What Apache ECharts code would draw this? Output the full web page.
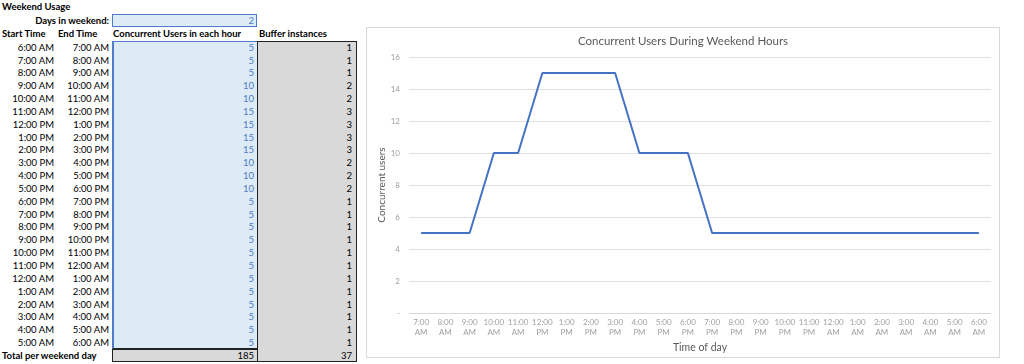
<!DOCTYPE html>
<html><head><meta charset="utf-8">
<script src="https://cdn.jsdelivr.net/npm/echarts@6/dist/echarts.min.js"></script>
<style>
body{margin:0;width:1024px;height:364px;background:#fff;overflow:hidden;font-family:Lato,'Liberation Sans',Arial,sans-serif;font-size:9.5px;color:#000;position:relative}
.t{position:absolute;white-space:nowrap;line-height:13px;height:13px}
.b{font-weight:bold}
.r{text-align:right}
.box{position:absolute;box-sizing:border-box}
#chart{position:absolute;left:366px;top:27px;width:632px;height:329px;border:1px solid #D9D9D9}
</style></head>
<body>
<div id="sheet"></div>
<div id="chart"></div>
<script>
// ---- data ----
const startTimes = ['6:00 AM','7:00 AM','8:00 AM','9:00 AM','10:00 AM','11:00 AM','12:00 PM','1:00 PM','2:00 PM','3:00 PM','4:00 PM','5:00 PM','6:00 PM','7:00 PM','8:00 PM','9:00 PM','10:00 PM','11:00 PM','12:00 AM','1:00 AM','2:00 AM','3:00 AM','4:00 AM','5:00 AM'];
const endTimes = ['7:00 AM','8:00 AM','9:00 AM','10:00 AM','11:00 AM','12:00 PM','1:00 PM','2:00 PM','3:00 PM','4:00 PM','5:00 PM','6:00 PM','7:00 PM','8:00 PM','9:00 PM','10:00 PM','11:00 PM','12:00 AM','1:00 AM','2:00 AM','3:00 AM','4:00 AM','5:00 AM','6:00 AM'];
const concurrentUsers = [5,5,5,10,10,15,15,15,15,10,10,10,5,5,5,5,5,5,5,5,5,5,5,5];
const bufferInstances = [1,1,1,2,2,3,3,3,3,2,2,2,1,1,1,1,1,1,1,1,1,1,1,1];
const daysInWeekend = 2;
const totalUsers = 185;
const totalBuffer = 37;
const yTicks = [0,2,4,6,8,10,12,14,16];

// ---- sheet (table) ----
const sheet = document.getElementById('sheet');
function box(l,t,w,h,style){const d=document.createElement('div');d.className='box';d.style.cssText=`left:${l}px;top:${t}px;width:${w}px;height:${h}px;`+style;sheet.appendChild(d);return d;}
function txt(s,l,t,w,cls,style){const d=document.createElement('div');d.className='t '+(cls||'');d.textContent=s;d.style.cssText=`left:${l}px;top:${t}px;`+(w?`width:${w}px;`:'')+(style||'');sheet.appendChild(d);return d;}

const rowTop = 40.7, rowH = 12.84, nRows = startTimes.length;
const dataBottom = rowTop + rowH*nRows;
const blueTxt = 'color:#4F7BC8;';
box(112,13.5,145,13.5,'background:#DDEBF7;border:1.5px solid #4F7BC8;');
box(112,rowTop,146,dataBottom-rowTop,'background:#DDEBF7;border-left:2px solid #4F7BC8;border-top:1.5px solid #4F7BC8;border-bottom:1.5px solid #222;');
box(257,rowTop,100,dataBottom-rowTop+13.5,'background:#D9D9D9;border:1.5px solid #222;border-bottom:none;');
box(112,dataBottom,146,13.5,'background:#D9D9D9;border:1.5px solid #222;');
box(257,dataBottom+12,100,1.5,'background:#222;');

txt('Weekend Usage',2,0,0,'b');
txt('Days in weekend:',0,14,109,'b r');
txt(String(daysInWeekend),112,14,142,'r',blueTxt);
txt('Start Time',2,27,0,'b');
txt('End Time',58,27,0,'b');
txt('Concurrent Users in each hour',113,27,0,'b');
txt('Buffer instances',259,27,0,'b');
for(let i=0;i<nRows;i++){
  const y = rowTop + i*rowH;
  txt(startTimes[i],0,y,54,'r');
  txt(endTimes[i],56,y,53,'r');
  txt(String(concurrentUsers[i]),112,y,142,'r',blueTxt);
  txt(String(bufferInstances[i]),258,y,94,'r');
}
txt('Total per weekend day',2,dataBottom+0.5,0,'b');
txt(String(totalUsers),112,dataBottom+0.5,142,'r');
txt(String(totalBuffer),258,dataBottom+0.5,94,'r');

// ---- chart ----
const xLabels = endTimes.map(s => s.replace(' ', '\n'));
const chart = echarts.init(document.getElementById('chart'));
const grey = '#595959';
chart.setOption({
  animation:false,
  textStyle:{fontFamily:"Lato,'Liberation Sans',Arial,sans-serif"},
  title:{text:'Concurrent Users During Weekend Hours',left:'center',top:2,
    textStyle:{fontSize:11.5,fontWeight:'normal',color:grey}},
  grid:{left:42,right:8,top:29,bottom:44,outerBoundsMode:'none',containLabel:false},
  xAxis:{type:'category',data:xLabels,boundaryGap:true,
    name:'Time of day',nameLocation:'middle',nameGap:29,nameMoveOverlap:false,
    nameTextStyle:{fontSize:10.5,color:grey},
    axisLine:{show:true,lineStyle:{color:'#D9D9D9'}},
    axisTick:{show:false},
    axisLabel:{interval:0,color:'#A0A0A0',fontSize:8,lineHeight:10,margin:4}},
  yAxis:{type:'value',min:yTicks[0],max:yTicks[yTicks.length-1],interval:yTicks[1]-yTicks[0],
    name:'Concurrent users',nameLocation:'middle',nameRotate:90,nameGap:22,nameMoveOverlap:false,
    nameTextStyle:{fontSize:10,color:grey},
    axisLine:{show:false},axisTick:{show:false},
    splitLine:{lineStyle:{color:'#E0E0E0'}},
    axisLabel:{color:'#A0A0A0',fontSize:8,margin:9,formatter:v=>v===0?'-':String(v)}},
  series:[{type:'line',data:concurrentUsers,symbol:'none',
    lineStyle:{color:'#4472C4',width:2},itemStyle:{color:'#4472C4'}}]
});
</script>
</body></html>
